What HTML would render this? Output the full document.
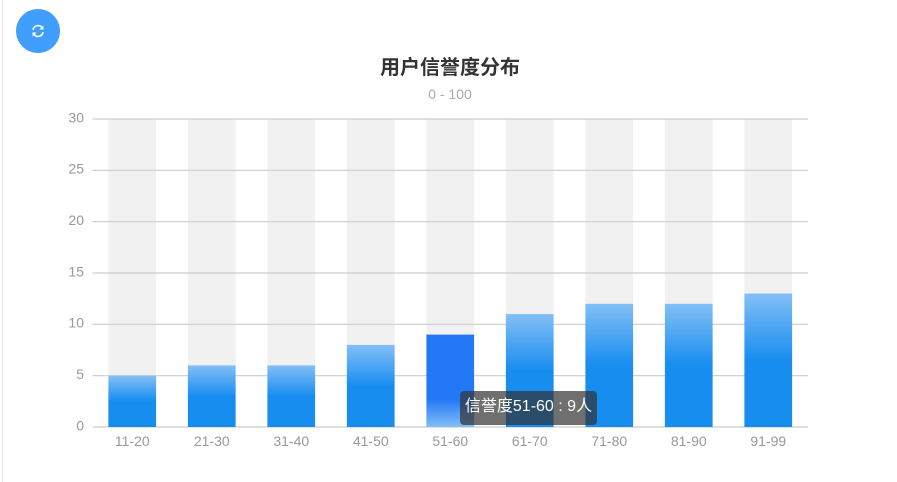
<!DOCTYPE html>
<html lang="zh">
<head>
<meta charset="utf-8">
<title>用户信誉度分布</title>
<style>
html,body{margin:0;padding:0;background:#fff;width:897px;height:482px;overflow:hidden;font-family:"Liberation Sans","Noto Sans CJK SC",sans-serif;}
#page{position:relative;width:897px;height:482px;}
#left-rule{position:absolute;left:2px;top:0;width:1px;height:482px;background:#e6e6e6;}
#refresh{position:absolute;left:16px;top:9px;width:44px;height:44px;border-radius:50%;background:#409eff;border:0;padding:0;}
#refresh svg{position:absolute;left:15px;top:15px;}
#chart{position:absolute;left:0;top:0;}
#tip{position:absolute;left:460px;top:391px;width:137px;height:34px;line-height:32px;border-radius:4px;background:rgba(50,50,50,.7);color:#fff;font-size:16px;text-align:center;white-space:nowrap;}
</style>
</head>
<body>
<div id="page">
<div id="left-rule"></div>
<svg id="chart" width="897" height="482">
<defs>
<linearGradient id="g" x1="0" y1="0" x2="0" y2="1"><stop offset="0" stop-color="#83bff6"/><stop offset=".5" stop-color="#188df0"/><stop offset="1" stop-color="#188df0"/></linearGradient>
<linearGradient id="h" x1="0" y1="0" x2="0" y2="1"><stop offset="0" stop-color="#2378f7"/><stop offset=".7" stop-color="#2378f7"/><stop offset="1" stop-color="#83bff6"/></linearGradient>
</defs>
<text x="450" y="74" text-anchor="middle" font-size="20" font-weight="700" fill="#333">用户信誉度分布</text>
<text x="450" y="99" text-anchor="middle" font-size="14" fill="#aaa">0 - 100</text>
<g id="plot"></g>
</svg>
<button id="refresh">
<svg width="14" height="14" viewBox="0 0 14 14"><path d="M2 6A5 5 0 0 1 11 3.6M12 8A5 5 0 0 1 3 10.4" fill="none" stroke="#fff" stroke-width="1.6"/><path d="M12.5 1.5V5.5H8.5ZM1.5 12.5V8.5H5.5Z" fill="#fff"/></svg>
</button>
<div id="tip">信誉度51-60 : 9人</div>
</div>
<script>
const categories = ['11-20','21-30','31-40','41-50','51-60','61-70','71-80','81-90','91-99'];
const values = [5,6,6,8,9,11,12,12,13];
const yTicks = [0,5,10,15,20,25,30];
const highlighted = '51-60';
const yMax = 30;
const plotLeft = 92.5, plotRight = 808, plotTop = 119, plotBottom = 427;
const NS = 'http://www.w3.org/2000/svg';
const plot = document.getElementById('plot');
const bandW = (plotRight - plotLeft) / categories.length;
const barW = bandW * 0.6;
function y(v){ return plotBottom - v / yMax * (plotBottom - plotTop); }
function x(i){ return plotLeft + bandW * (i + 0.5); }
function add(tag, attrs, text){
  const el = document.createElementNS(NS, tag);
  for (const k in attrs) el.setAttribute(k, attrs[k]);
  if (text !== undefined) el.textContent = text;
  plot.appendChild(el);
  return el;
}
categories.forEach(function(c, i){
  const el = add('rect', {x:x(i)-barW/2, y:plotTop, width:barW, height:plotBottom-plotTop, fill:'#f0f0f0', 'fill-opacity':'.95'});
  
  
});
yTicks.forEach(function(t){
  const py = y(t);
  const line = add('line', {x1:plotLeft, x2:plotRight, y1:py, y2:py, stroke:'#ccc', 'stroke-width':1.2});
  
  
  const label = add('text', {x:plotLeft-8.5, y:py+3.4, 'text-anchor':'end', 'font-size':14, fill:'#999'}, t);
  
  
});
categories.forEach(function(c, i){
  const top = y(values[i]);
  const bar = add('rect', {x:x(i)-barW/2, y:top, width:barW, height:plotBottom-top, fill: c === highlighted ? 'url(#h)' : 'url(#g)'});
  
  
  const label = add('text', {x:x(i), y:plotBottom+19, 'text-anchor':'middle', 'font-size':14, fill:'#999'}, c);
  
  
});
</script>
</body>
</html>
